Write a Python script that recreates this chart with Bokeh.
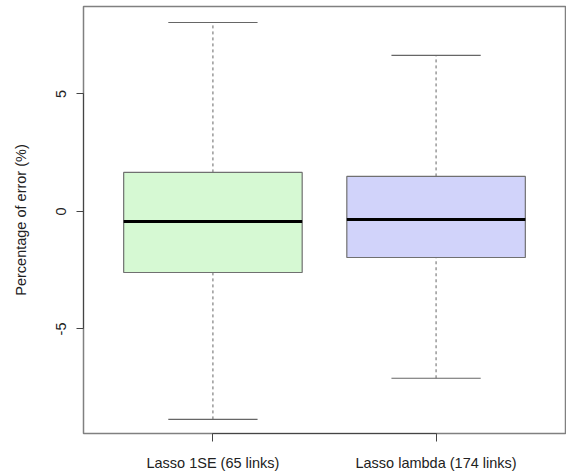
import numpy as np
from bokeh.plotting import figure
from bokeh.models import ColumnDataSource, FixedTicker, Range1d
from bokeh.embed import file_html
from bokeh.resources import INLINE

# data
categories = ["Lasso 1SE (65 links)", "Lasso lambda (174 links)"]
positions = [1, 2]
q1 = [-2.60, -1.96]
median = [-0.43, -0.34]
q3 = [1.66, 1.49]
lower = [-8.85, -7.10]
upper = [8.04, 6.64]
fills = ["#d6f9d3", "#d1d3fa"]
y_ticks = [-5, 0, 5]
y_tick_labels = ["-5", "0", "5"]

box_w = 0.8
cap_w = 0.4
pos = np.array(positions, dtype=float)

src = ColumnDataSource(dict(
    x=pos, q1=q1, med=median, q3=q3, lo=lower, hi=upper, fill=fills,
    bx0=pos - box_w / 2, bx1=pos + box_w / 2,
    cx0=pos - cap_w / 2, cx1=pos + cap_w / 2,
))

p = figure(width=566, height=475, output_backend="svg", toolbar_location=None,
           x_range=Range1d(0.42, 2.58), y_range=Range1d(-9.45, 8.72),
           min_border_left=83, min_border_top=6, min_border_right=1,
           min_border_bottom=42)
p.xgrid.visible = False
p.ygrid.visible = False
p.outline_line_color = "#808080"
p.outline_line_width = 1.5
p.background_fill_color = "white"
p.border_fill_color = "white"

# whiskers (dashed)
p.segment(x0="x", y0="q3", x1="x", y1="hi", source=src, line_color="#666666",
          line_width=1, line_dash="3 3")
p.segment(x0="x", y0="lo", x1="x", y1="q1", source=src, line_color="#666666",
          line_width=1, line_dash="3 3")
# caps
p.segment(x0="cx0", y0="hi", x1="cx1", y1="hi", source=src, line_color="#666666", line_width=1.2)
p.segment(x0="cx0", y0="lo", x1="cx1", y1="lo", source=src, line_color="#666666", line_width=1.2)
# boxes
p.vbar(x="x", width=box_w, top="q3", bottom="q1", source=src, fill_color="fill",
       line_color="#707070", line_width=1.2)
# medians
p.segment(x0="bx0", y0="med", x1="bx1", y1="med", source=src, line_color="black", line_width=3)

font = "Liberation Sans"
fs = "14.5px"
# y axis
ya = p.yaxis[0]
ya.ticker = FixedTicker(ticks=y_ticks)
ya.major_label_overrides = {k: v for k, v in zip(y_ticks, y_tick_labels)}
ya.bounds = (min(y_ticks), max(y_ticks))
ya.axis_line_color = "#444444"
ya.major_tick_line_color = "#444444"
ya.major_tick_in = 0
ya.major_tick_out = 7
ya.minor_tick_line_color = None
ya.major_label_orientation = "vertical"
ya.major_label_text_font = font
ya.major_label_text_font_size = fs
ya.major_label_text_color = "#222222"
ya.major_label_standoff = 10
ya.axis_label = "Percentage of error (%)"
ya.axis_label_text_font = font
ya.axis_label_text_font_size = fs
ya.axis_label_text_font_style = "normal"
ya.axis_label_text_color = "#222222"
ya.axis_label_standoff = 25

# x axis
xa = p.xaxis[0]
xa.ticker = FixedTicker(ticks=positions)
xa.bounds = (min(positions), max(positions))
xa.major_label_overrides = {k: v for k, v in zip(positions, categories)}
xa.axis_line_color = "#444444"
xa.major_tick_line_color = "#444444"
xa.major_tick_in = 0
xa.major_tick_out = 8
xa.minor_tick_line_color = None
xa.major_label_text_font = font
xa.major_label_text_font_size = fs
xa.major_label_text_color = "#222222"
xa.major_label_standoff = 13

open("out.html", "w").write(file_html(p, INLINE))
